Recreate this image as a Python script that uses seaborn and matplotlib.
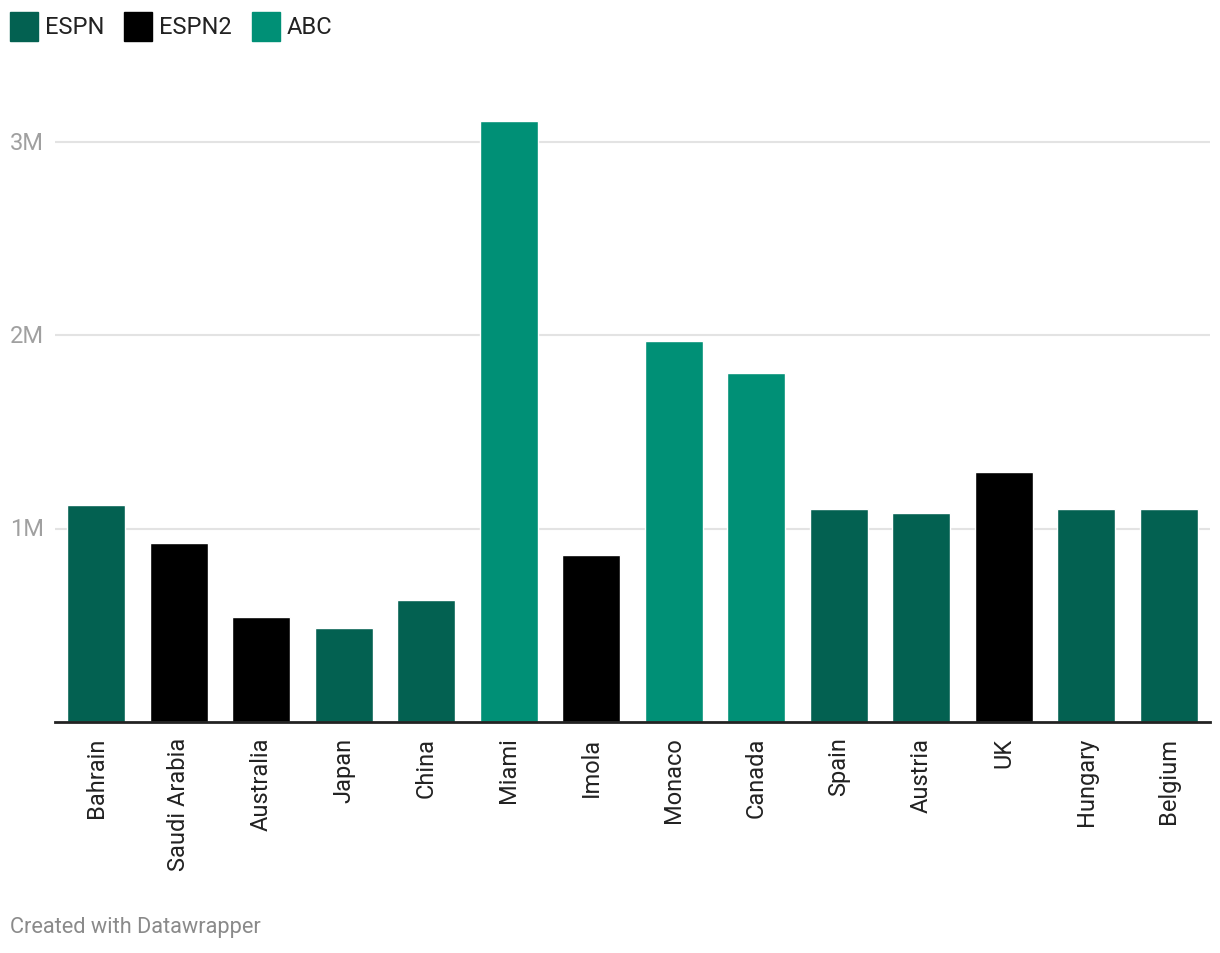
import matplotlib
matplotlib.use("Agg")
import matplotlib.pyplot as plt
from matplotlib.patches import Rectangle
import matplotlib.transforms as mtransforms
import pandas as pd
import seaborn as sns

# Race viewership (2024)
races = ['Bahrain', 'Saudi Arabia', 'Australia', 'Japan', 'China', 'Miami', 'Imola',
         'Monaco', 'Canada', 'Spain', 'Austria', 'UK', 'Hungary', 'Belgium']
viewers = [1122000, 926000, 543000, 486000, 631000, 3109000, 864000,
           1971000, 1805000, 1102000, 1081000, 1293000, 1102000, 1102000]
network = ['ESPN', 'ESPN2', 'ESPN2', 'ESPN', 'ESPN', 'ABC', 'ESPN2',
           'ABC', 'ABC', 'ESPN', 'ESPN', 'ESPN2', 'ESPN', 'ESPN']
series = ['ESPN', 'ESPN2', 'ABC']
colors = {'ESPN': '#036151', 'ESPN2': '#000000', 'ABC': '#009076'}
y_ticks = [1000000, 2000000, 3000000]
y_tick_labels = ['1M', '2M', '3M']

df = pd.DataFrame({'Race': races, 'Viewers': viewers, 'Network': network})

sns.set_theme(style='white')
plt.rcParams['font.family'] = ['Roboto', 'DejaVu Sans']

W, H = 1220, 954
fig = plt.figure(figsize=(W / 100, H / 100), dpi=100)
ax = fig.add_axes([55 / W, (H - 723) / H, (1210 - 55) / W, (723 - 104.4) / H])

sns.barplot(data=df, x='Race', y='Viewers', hue='Network', palette=colors,
            dodge=False, width=0.7, legend=False, saturation=1, ax=ax)

ax.set_xlim(-0.5, len(races) - 0.5)
ax.set_ylim(0, 3200000)
ax.set_xlabel('')
ax.set_ylabel('')

# gridlines
ax.set_yticks(y_ticks)
ax.set_yticklabels([])
ax.tick_params(axis='y', length=0)
ax.grid(axis='y', color='#e3e3e3', linewidth=1.5)
ax.set_axisbelow(True)
for side in ['top', 'right', 'left']:
    ax.spines[side].set_visible(False)
ax.spines['bottom'].set_color('#222222')
ax.spines['bottom'].set_linewidth(2)

# y labels placed at the left edge of the figure
trans = mtransforms.blended_transform_factory(fig.transFigure, ax.transData)
for val, lab in zip(y_ticks, y_tick_labels):
    ax.text(10 / W, val, lab, transform=trans, ha='left', va='center',
            fontsize=17, color='#a0a0a0')

ax.tick_params(axis='x', length=0, pad=10.5)
ax.set_xticks(range(len(races)))
ax.set_xticklabels(races, rotation=90, fontsize=17, color='#222222')

# legend
x_pos = [10, 124, 252]
for name, xp in zip(series, x_pos):
    fig.patches.append(Rectangle((xp / W, (H - 42) / H), 28 / W, 29 / H,
                                 transform=fig.transFigure, color=colors[name]))
    fig.text((xp + 35) / W, (H - 27) / H, name, ha='left', va='center',
             fontsize=17, color='#222222')

fig.text(10 / W, (H - 928) / H, 'Created with Datawrapper', ha='left', va='center',
         fontsize=15.7, color='#8a8a8a')

fig.savefig('out.png', dpi=100, facecolor='white')
